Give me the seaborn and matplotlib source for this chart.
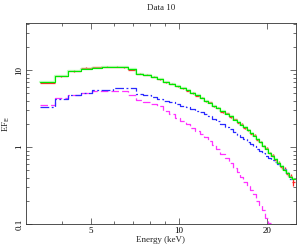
import numpy as np
import pandas as pd
import matplotlib
matplotlib.use("Agg")
import matplotlib.pyplot as plt
from matplotlib.ticker import FixedLocator, NullFormatter
import seaborn as sns

# ------------------ data ------------------
# energy bin edges (keV)
edges = [3.34, 3.76, 4.18, 4.61, 5.05, 5.46, 5.94, 6.33, 6.71, 7.16,
         7.55, 8.02, 8.44, 8.84, 9.26, 9.69, 10.13, 10.55, 10.97, 11.41,
         11.80, 12.18, 12.60, 13.00, 13.46, 13.89, 14.37, 14.83, 15.35, 15.80,
         16.24, 16.63, 17.10, 17.51, 17.93, 18.43, 18.87, 19.32, 19.78, 20.25,
         20.74, 21.23, 21.74, 22.26, 22.79, 23.34, 23.89, 24.46, 24.95]

# total model (green)
model_total = [7.05, 8.4, 9.7, 10.5, 10.8, 11.0, 11.0, 10.9, 10.2, 8.9,
               8.6, 8.2, 7.6, 7.05, 6.6, 6.2, 5.8, 5.45, 5.0, 4.7,
               4.35, 4.0, 3.75, 3.45, 3.2, 2.9, 2.7, 2.5, 2.28, 2.1,
               1.95, 1.8, 1.65, 1.52, 1.4, 1.27, 1.15, 1.04, 0.94, 0.85,
               0.76, 0.69, 0.62, 0.56, 0.51, 0.46, 0.41, 0.38]

# data points (red)
data_flux = [6.9, 8.35, 9.75, 10.7, 10.85, 11.05, 11.1, 10.85, 10.15, 8.95,
             8.7, 8.15, 7.65, 7.0, 6.65, 6.15, 5.85, 5.4, 5.05, 4.65,
             4.4, 3.95, 3.8, 3.4, 3.25, 2.85, 2.75, 2.45, 2.3, 2.08,
             1.98, 1.78, 1.67, 1.5, 1.42, 1.25, 1.17, 1.02, 0.96, 0.84,
             0.78, 0.68, 0.63, 0.55, 0.52, 0.45, 0.42, 0.35]
data_err = [0.15, 0.15, 0.15, 0.15, 0.15, 0.15, 0.15, 0.15, 0.15, 0.13,
            0.13, 0.12, 0.12, 0.11, 0.1, 0.1, 0.09, 0.09, 0.08, 0.08,
            0.08, 0.07, 0.07, 0.07, 0.06, 0.06, 0.06, 0.05, 0.05, 0.05,
            0.05, 0.04, 0.04, 0.04, 0.04, 0.035, 0.035, 0.03, 0.03, 0.03,
            0.03, 0.025, 0.025, 0.025, 0.025, 0.025, 0.025, 0.04]

# model component 1 (blue, dash-dot)
comp_blue = [3.35, 4.2, 4.7, 5.07, 5.45, 5.6, 5.8, 5.8, 5.78, 4.88,
             4.7, 4.5, 4.16, 4.03, 3.8, 3.65, 3.45, 3.3, 3.15, 2.97,
             2.83, 2.7, 2.5, 2.32, 2.15, 1.98, 1.82, 1.7, 1.57, 1.45,
             1.36, 1.27, 1.18, 1.1, 1.02, 0.95, 0.89, 0.83, 0.77, 0.72,
             0.68, 0.64, 0.6, 0.56, 0.52, 0.46, 0.38]

# model component 2 (magenta, dashed)
comp_magenta = [3.55, 4.35, 4.8, 5.1, 5.3, 5.35, 5.3, 5.3, 4.8, 4.08,
                3.85, 3.62, 3.37, 2.93, 2.68, 2.42, 2.2, 1.98, 1.78, 1.62,
                1.5, 1.36, 1.2, 1.06, 0.93, 0.82, 0.72, 0.63, 0.54, 0.47,
                0.41, 0.355, 0.31, 0.28, 0.245, 0.2, 0.175, 0.15, 0.12, 0.102]

x_major = [5, 10, 20]
x_minor = [4, 6, 7, 8, 9]
y_major = [0.1, 1, 10]
y_minor = [0.2, 0.3, 0.4, 0.5, 0.6, 0.7, 0.8, 0.9,
           2, 3, 4, 5, 6, 7, 8, 9, 20, 30, 40]


def step_frame(values):
    n = len(values)
    return pd.DataFrame({"energy": edges[:n + 1],
                         "flux": list(values) + [values[-1]]})


sns.set_theme(style="ticks")
plt.rcParams["font.family"] = ["Liberation Serif", "DejaVu Serif"]
plt.rcParams["font.size"] = 6.5

fig = plt.figure(figsize=(2.97, 2.45), dpi=100)
ax = fig.add_axes([26 / 297, 21 / 245, 270 / 297, 201 / 245])

# data with error bars
e = np.array(edges)
centers = np.sqrt(e[:-1] * e[1:])
ax.errorbar(centers, data_flux, yerr=data_err,
            xerr=[centers - e[:-1], e[1:] - centers],
            fmt="none", ecolor="#ff2020", elinewidth=0.9, capsize=0, zorder=2)

# model components
sns.lineplot(data=step_frame(comp_magenta), x="energy", y="flux", ax=ax,
             color="#ff33ff", lw=0.9, linestyle=(0, (6, 2.5)),
             drawstyle="steps-post", estimator=None, errorbar=None, zorder=3)
sns.lineplot(data=step_frame(comp_blue), x="energy", y="flux", ax=ax,
             color="#2a2aff", lw=0.9, linestyle=(0, (7, 2, 1.5, 2)),
             drawstyle="steps-post", estimator=None, errorbar=None, zorder=3)

# total model
sns.lineplot(data=step_frame(model_total), x="energy", y="flux", ax=ax,
             color="#88ff88", lw=1.7, alpha=0.55,
             drawstyle="steps-post", estimator=None, errorbar=None, zorder=4)
sns.lineplot(data=step_frame(model_total), x="energy", y="flux", ax=ax,
             color="#00e600", lw=0.8,
             drawstyle="steps-post", estimator=None, errorbar=None, zorder=5)

ax.set_xscale("log")
ax.set_yscale("log")
ax.set_xlim(3.0, 25.2)
ax.set_ylim(0.1, 41)

ax.xaxis.set_major_locator(FixedLocator(x_major))
ax.xaxis.set_minor_locator(FixedLocator(x_minor))
ax.set_xticklabels([str(v) for v in x_major])
ax.xaxis.set_minor_formatter(NullFormatter())
ax.yaxis.set_major_locator(FixedLocator(y_major))
ax.yaxis.set_minor_locator(FixedLocator(y_minor))
ax.set_yticklabels(["0.1", "1", "10"])
ax.yaxis.set_minor_formatter(NullFormatter())

ax.tick_params(which="both", direction="in", top=True, right=True,
               colors="#333333", labelcolor="black", labelsize=6.5)
ax.tick_params(which="major", length=4, width=0.5, pad=2)
ax.tick_params(which="minor", length=2, width=0.5)
for lbl in ax.get_yticklabels():
    lbl.set_rotation(90)
    lbl.set_va("center")

for sp in ax.spines.values():
    sp.set_linewidth(0.6)
    sp.set_color("#333333")

ax.set_title("Data 10", fontsize=6.5, pad=9)
ax.set_xlabel("Energy (keV)", fontsize=6.5, labelpad=1)
ax.set_ylabel(r"EF$_{\rm E}$", fontsize=6.5, labelpad=2)

fig.savefig("out.png", dpi=100)
